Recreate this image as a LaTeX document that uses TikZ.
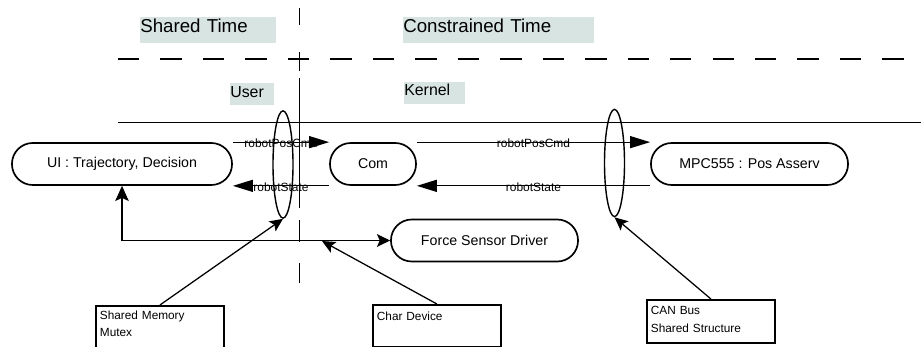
\documentclass[tikz,border=0pt]{standalone}
\usepackage{fontspec}
\setmainfont{Liberation Sans}
\usetikzlibrary{arrows.meta,shapes.geometric}
\definecolor{tagbg}{RGB}{216,228,226}

\begin{document}
\begin{tikzpicture}[x=0.025cm, y=-0.025cm,
    proc/.style={draw, line width=1.2pt, rounded corners=0.52cm,
      minimum height=1.05cm, inner sep=0pt, font=\fontsize{10.1}{12}\selectfont},
    tag/.style={fill=tagbg, anchor=north west, inner sep=0pt, align=left},
    note/.style={draw, line width=1.3pt, anchor=north west, align=left,
      inner xsep=0.1cm, inner ysep=0pt, text width=3cm,
      font=\fontsize{8.4}{12.4}\selectfont},
    ring/.style={draw, line width=1pt, ellipse, inner sep=0pt,
      minimum width=0.5cm, minimum height=2.68cm},
    msg/.style={anchor=north, inner sep=0pt, yshift=2.6pt,
      font=\fontsize{8.5}{10}\selectfont},
    flow/.style={line width=0.9pt, -{Triangle[length=0.5cm, width=0.3cm]}},
    ptr/.style={line width=0.9pt, -{Stealth[length=0.33cm, width=0.3cm, inset=0.07cm]}},
    link/.style={line width=0.9pt, {Stealth[length=0.38cm, width=0.34cm, inset=0.08cm]}-{Stealth[length=0.33cm, width=0.32cm, inset=0.07cm]}}]
  \useasboundingbox (0,0) rectangle (921,347);
  % Time domains and spaces
  \node[tag, text width=3.4cm, text height=0.375cm, text depth=0.275cm,
    font=\fontsize{13.3}{15}\selectfont] (shared) at (140,17) {Shared Time};
  \node[tag, text width=4.775cm, text height=0.375cm, text depth=0.275cm,
    font=\fontsize{13.3}{15}\selectfont] (constr) at (403,17) {Constrained Time};
  \node[tag, text width=1.1cm, text height=0.35cm, text depth=0.2cm,
    font=\fontsize{11.3}{13}\selectfont] (user) at (230,83) {User};
  \node[tag, text width=1.525cm, text height=0.325cm, text depth=0.225cm,
    font=\fontsize{11.3}{13}\selectfont] (kernel) at (404,82) {Kernel};
  % Separators
  \draw[line width=1.2pt, dash pattern=on 15.2pt off 15pt] (118,59) -- (905,59);
  \draw[line width=1pt] (118,122.5) -- (921,122.5);
  \draw[line width=1.2pt] (299.5,8) -- (299.5,25) (299.5,52) -- (299.5,71)
    (299.5,78) -- (299.5,208) (299.5,220) -- (299.5,242) (299.5,263) -- (299.5,283);
  % Tasks
  \node[proc, minimum width=5.5cm] (ui) at (122,164) {UI : Trajectory, Decision};
  \node[proc, minimum width=2.15cm] (com) at (373,164) {Com};
  \node[proc, minimum width=4.925cm] (mpc) at (749.5,164) {MPC555 : Pos Asserv};
  \node[proc, minimum width=4.675cm] (force) at (484.5,240.5) {Force Sensor Driver};
  % Messages
  \draw[flow] (ui.north east) -- node[msg] {robotPosCmd} (com.north west);
  \draw[flow] (com.north east) -- node[msg] {robotPosCmd} (mpc.north west);
  \draw[flow] (com.south west) -- node[msg] {robotState} (ui.south east);
  \draw[flow] (mpc.south west) -- node[msg] {robotState} (com.south east);
  \draw[link] (ui.south) |- (force.west);
  % Communication means
  \node[ring] (ringA) at (283,164.5) {};
  \node[ring] (ringB) at (614.5,163) {};
  \coordinate (tap) at (322,241);
  \node[note, text height=0.34cm, text depth=0.71cm] (mem) at (95,305)
    {Shared Memory\\Mutex};
  \node[note, text height=0.4cm, text depth=0.65cm] (chr) at (372,304) {Char Device};
  \node[note, text height=0.375cm, text depth=0.7cm] (can) at (646,299)
    {CAN Bus\\Shared Structure};
  \draw[ptr] (mem.north) -- (ringA.south);
  \draw[ptr] (chr.north) -- (tap);
  \draw[ptr] (can.north) -- (ringB.south);
\end{tikzpicture}
\end{document}
